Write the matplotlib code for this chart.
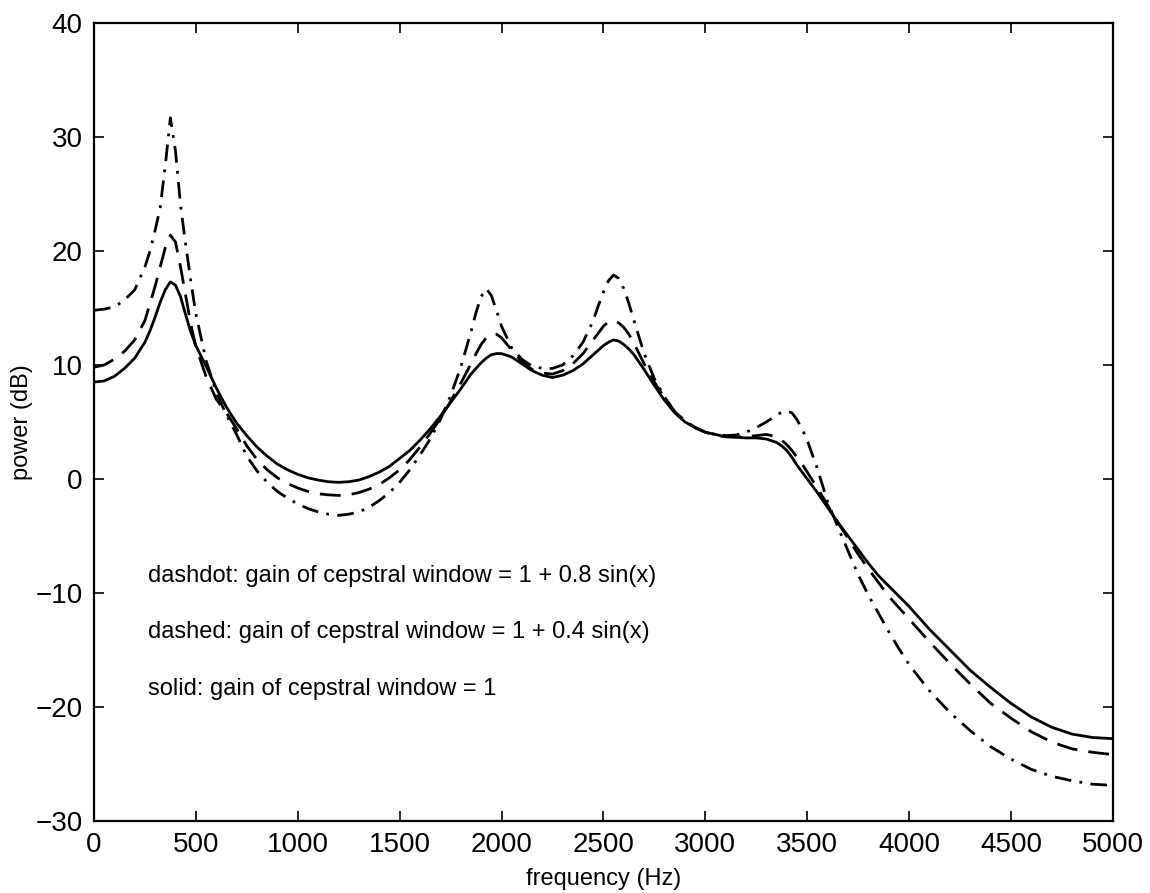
import numpy as np
import matplotlib
matplotlib.use('Agg')
import matplotlib.pyplot as plt

plt.rcParams['font.family'] = ['Liberation Sans', 'DejaVu Sans']

# frequency samples (Hz), denser around the peaks
freq = [0, 50, 100, 150, 200, 250,
        275, 300, 325, 350, 375, 400, 425, 450, 475, 500,
        550, 600, 650, 700, 750, 800, 850, 900, 950, 1000, 1050, 1100, 1150,
        1200, 1250, 1300, 1350, 1400, 1450, 1500, 1550, 1600, 1650, 1700, 1750, 1800,
        1850, 1875, 1900, 1925, 1950, 1975, 2000,
        2050, 2100, 2150, 2200, 2250, 2300, 2350, 2400, 2450,
        2475, 2500, 2525, 2550, 2575, 2600, 2625, 2650,
        2700, 2750, 2800, 2850, 2900, 2950, 3000, 3050, 3100, 3150, 3200, 3250, 3300,
        3350, 3375, 3400, 3425, 3450, 3475, 3500,
        3550, 3600, 3650, 3700, 3750, 3800, 3850, 3900, 3950, 4000,
        4100, 4200, 4300, 4400, 4500, 4600, 4700, 4800, 4900, 5000]

# solid: gain = 1
power_solid = [8.5, 8.6, 9.0, 9.7, 10.6, 12.0,
               13.0, 14.2, 15.5, 16.6, 17.3, 17.0, 16.0, 14.4, 12.9, 11.7,
               9.9, 8.0, 6.3, 4.9, 3.8, 2.8, 2.0, 1.3, 0.8, 0.4, 0.1, -0.1, -0.25,
               -0.3, -0.25, -0.1, 0.2, 0.6, 1.1, 1.8, 2.5, 3.4, 4.4, 5.5, 6.7, 7.9,
               9.2, 9.7, 10.2, 10.6, 10.9, 11.0, 11.0,
               10.7, 10.1, 9.5, 9.1, 8.9, 9.1, 9.5, 10.1, 10.9,
               11.3, 11.7, 12.0, 12.2, 12.1, 11.8, 11.4, 10.9,
               9.6, 8.2, 6.9, 5.8, 5.0, 4.5, 4.1, 3.9, 3.7, 3.65, 3.6, 3.6, 3.5,
               3.2, 2.9, 2.5, 1.9, 1.2, 0.6, 0.0,
               -1.2, -2.5, -3.8, -5.0, -6.2, -7.4, -8.5, -9.4, -10.3, -11.2,
               -13.2, -15.0, -16.8, -18.3, -19.7, -20.9, -21.8, -22.4, -22.7, -22.8]

# dashed: gain = 1 + 0.4 sin(x)
power_dashed = [9.8, 10.0, 10.5, 11.2, 12.2, 13.9,
                15.4, 16.9, 18.6, 20.3, 21.4, 20.8, 18.6, 16.1, 13.6, 11.6,
                9.0, 7.0, 5.8, 4.4, 2.9, 1.7, 0.8, 0.1, -0.4, -0.8, -1.1, -1.3, -1.4,
                -1.45, -1.4, -1.2, -0.9, -0.5, 0.1, 0.8, 1.7, 2.8, 4.0, 5.3, 6.8, 8.4,
                10.1, 11.0, 11.8, 12.4, 12.7, 12.7, 12.4,
                11.3, 10.3, 9.6, 9.3, 9.2, 9.5, 10.1, 11.0, 12.2,
                12.8, 13.4, 13.8, 13.9, 13.7, 13.3, 12.7, 11.9,
                10.1, 8.5, 7.1, 5.9, 5.1, 4.5, 4.1, 3.85, 3.7, 3.7, 3.7, 3.8, 3.9,
                3.7, 3.4, 3.0, 2.5, 1.9, 1.3, 0.6,
                -0.8, -2.3, -3.8, -5.2, -6.6, -7.9, -9.1, -10.3, -11.3, -12.3,
                -14.3, -16.2, -18.0, -19.7, -21.0, -22.2, -23.1, -23.7, -24.0, -24.2]

# dashdot: gain = 1 + 0.8 sin(x)
power_dashdot = [14.8, 14.9, 15.1, 15.7, 16.6, 18.6,
                 20.0, 21.8, 23.8, 27.5, 31.7, 28.8, 24.0, 20.6, 17.4, 14.5,
                 10.4, 7.6, 5.6, 3.9, 2.0, 0.7, -0.3, -1.1, -1.7, -2.2, -2.6, -2.9, -3.1,
                 -3.2, -3.1, -2.9, -2.5, -1.9, -1.2, -0.3, 0.8, 2.1, 3.5, 5.2, 7.3, 9.8,
                 12.9, 14.6, 16.0, 16.7, 16.1, 14.8, 13.4,
                 11.5, 10.5, 9.9, 9.7, 9.7, 10.0, 10.8, 12.0, 13.9,
                 15.2, 16.4, 17.4, 17.9, 17.6, 16.7, 15.4, 13.9,
                 11.0, 8.8, 7.2, 5.9, 5.1, 4.5, 4.1, 3.9, 3.8, 3.85, 4.1, 4.5, 5.0,
                 5.6, 5.85, 5.95, 5.8, 5.2, 4.4, 3.4,
                 0.9, -2.0, -4.2, -6.3, -8.4, -10.2, -11.8, -13.4, -14.9, -16.3,
                 -18.6, -20.5, -22.1, -23.5, -24.6, -25.5, -26.1, -26.5, -26.8, -26.9]

notes = ['dashdot: gain of cepstral window = 1 + 0.8 sin(x)',
         'dashed: gain of cepstral window = 1 + 0.4 sin(x)',
         'solid: gain of cepstral window = 1']
note_y = [-8.5, -13.4, -18.4]

fig = plt.figure(figsize=(11.5, 8.93), dpi=100)
ax = fig.add_axes([0.0817, 0.081, 0.886, 0.893])

ax.plot(freq, power_solid, color='black', linestyle='-', linewidth=2.0)
ax.plot(freq, power_dashed, color='black', linestyle=(0, (7.5, 4)), linewidth=2.0)
ax.plot(freq, power_dashdot, color='black', linestyle=(0, (6, 3, 1, 3)), linewidth=2.0)

for txt, yy in zip(notes, note_y):
    ax.text(265, yy, txt, fontsize=17, va='center', ha='left')

ax.set_xlim(0, 5000)
ax.set_ylim(-30, 40)
ax.set_xticks(np.arange(0, 5001, 500))
ax.set_yticks(np.arange(-30, 41, 10))
ax.tick_params(direction='in', length=7, width=1.2, labelsize=20, pad=8,
               top=True, right=True)
for s in ax.spines.values():
    s.set_linewidth(1.6)

ax.set_xlabel('frequency (Hz)', fontsize=17, labelpad=7)
ax.set_ylabel('power (dB)', fontsize=17, labelpad=2)

plt.savefig('out.png', dpi=100)
